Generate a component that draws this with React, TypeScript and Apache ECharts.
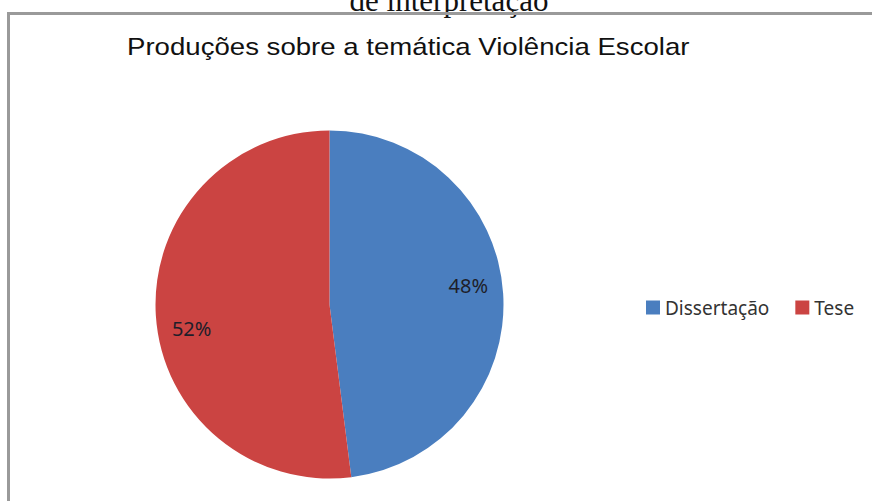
import React, { useEffect, useRef } from "react";
import * as echarts from "echarts";

const categories = ["Dissertação", "Tese"];
const values = [48, 52];
const colors = ["#4a7ebf", "#cb4442"];
const titleText = "Produções sobre a temática Violência Escolar";
const captionText = "de interpretação";

export default function App() {
  const ref = useRef<HTMLDivElement>(null);
  useEffect(() => {
    if (!ref.current) return;
    const chart = echarts.init(ref.current, null, { renderer: "svg" });
    const labelOffsets = [
      [49, -13],
      [-48, 18],
    ];
    chart.setOption({
      animation: false,
      backgroundColor: "#ffffff",
      legend: {
        orient: "horizontal",
        left: 641,
        top: 293,
        icon: "rect",
        itemWidth: 14,
        itemHeight: 14,
        itemGap: 26,
        data: categories,
        textStyle: {
          fontFamily: "Noto Sans",
          fontSize: 19,
          color: "#333333",
        },
      },
      graphic: [
        {
          type: "text",
          x: 449,
          y: 16,
          style: {
            text: captionText,
            fontFamily: "Liberation Serif",
            fontSize: 31,
            fill: "#111111",
            textAlign: "center",
            textVerticalAlign: "bottom",
          },
        },
        {
          type: "text",
          x: 127,
          y: 47,
          scaleX: 1.15,
          style: {
            text: titleText,
            fontFamily: "Liberation Sans",
            fontSize: 24,
            fill: "#111111",
            textAlign: "left",
            textVerticalAlign: "middle",
          },
        },
        {
          type: "rect",
          shape: { x: 8.5, y: 13.5, width: 900, height: 600 },
          style: { fill: "none", stroke: "#9a9a9a", lineWidth: 3 },
          z: 10,
        },
      ],
      series: [
        {
          type: "pie",
          center: [329.5, 304.5],
          radius: 174,
          startAngle: 90,
          clockwise: true,
          silent: true,
          data: categories.map((name, i) => ({
            name,
            value: values[i],
            itemStyle: { color: colors[i] },
            label: { offset: labelOffsets[i] },
          })),
          label: {
            show: true,
            position: "inside",
            formatter: (p: any) => p.value + "%",
            fontFamily: "Noto Sans",
            fontSize: 20,
            color: "#1e1e2a",
          },
          labelLine: { show: false },
          emphasis: { disabled: true },
        },
      ],
    });
    return () => chart.dispose();
  }, []);
  return (
    <div
      ref={ref}
      style={{ position: "absolute", left: 0, top: 0, width: 872, height: 501 }}
    />
  );
}
